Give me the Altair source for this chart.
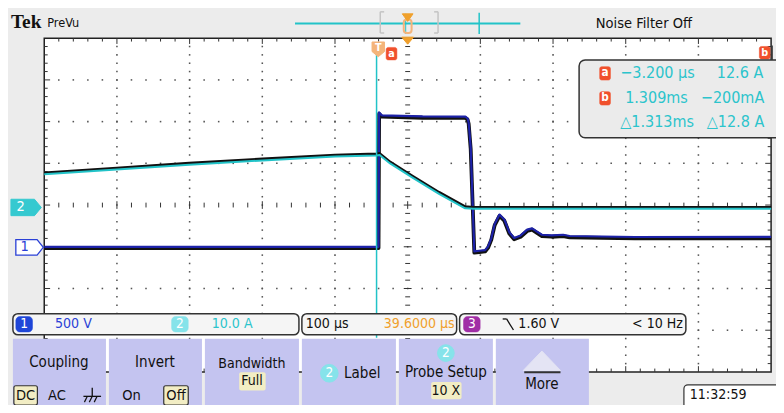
import altair as alt
import numpy as np
import pandas as pd

# ---------------- scope settings ----------------
time_per_div_us = 100.0      # "100 µs"
delay_us = 39.6              # "39.6000 µs"
ch1_volts_per_div = 500.0    # "500 V"
ch2_amps_per_div = 10.0      # "10.0 A"
ch1_offset_div = -1.0
ch2_offset_div = -0.07
cursor_a_us = -3.2

# ---------------- waveform data ----------------
ch2_time_us = [-460.4, -360.6, -260.9, -159.8, -60.1, -3.2, 1.0, 15.4, 46.8, 82.7, 118.7, 130.0, 539.6]
ch2_amps = [8.06, 9.2, 10.37, 11.4, 12.33, 12.6, 12.7, 10.67, 7.2, 3.39, -0.07, -0.2, -0.2]

ch1_time_us = [-460.4, -0.5, 0.3, 4.0, 60.0, 119.0, 122.0, 123.5, 126.3, 131.3, 138.0, 146.1, 150.1,
               154.6, 159.2, 165.9, 172.6, 179.4, 186.1, 195.0, 204.0, 210.8, 217.5, 224.3, 237.7,
               253.5, 262.4, 352.3, 539.6]
ch1_volts = [0, 0, 1610, 1575, 1562, 1560, 1540, 1490, 1190, -55, -48, -40, 2,
             98, 271, 386, 328, 175, 106, 136, 205, 221, 182, 144, 136,
             144, 129, 117, 118]

# ---------------- texts ----------------
cursor_a_label = ["−3.200 µs", "12.6 A"]
cursor_b_label = ["1.309ms", "−200mA"]
cursor_delta_label = ["△1.313ms", "△12.8 A"]
readout_labels = ["500 V", "10.0 A", "100 µs", "39.6000 µs", "1.60 V", "< 10 Hz"]
menu_titles = ["Coupling", "Invert", "Bandwidth", "Label", "Probe Setup", "More"]

# ---------------- geometry of the screen (reference pixels) ----------------
REF_W, REF_H = 784, 413
W, H = 768, 397
KX, KY = W / REF_W, H / REF_H
FS = 0.97
GX0, GX1 = 37.0, 779.0
GCY, DY = 205.0, 43.4
GY0, GY1 = GCY - 4 * DY, GCY + 4 * DY
DX = (GX1 - GX0) / 10
GCX = (GX0 + GX1) / 2

FONT = "Liberation Sans Narrow, DejaVu Sans Condensed, Arial Narrow, sans-serif"
CYAN = "#22c3c8"
CYAN_TXT = "#2cc4cc"
CYAN_BADGE = "#86e3ea"
BLUE = "#1d22a8"
BLUE_TXT = "#2a40d6"
BLUE_BADGE = "#1f46d8"
ORANGE = "#f0a02c"
ORANGE_LIGHT = "#f4b47a"
RED = "#f0502c"
PURPLE = "#a02ea6"
MENU = "#c4c4f0"
HILITE = "#f2edc4"
BG = "#ececec"
DARK = "#333333"

sx = alt.Scale(domain=[0, REF_W], range=[0, W])
sy = alt.Scale(domain=[0, REF_H], range=[0, H])


def X(f="x"):
    return alt.X(f"{f}:Q", scale=sx, axis=None)


def Y(f="y"):
    return alt.Y(f"{f}:Q", scale=sy, axis=None)


def rects(rows, radius=0):
    df = pd.DataFrame(rows, columns=["x", "x2", "y", "y2", "f", "st", "w"])
    return alt.Chart(df).mark_rect(cornerRadius=radius).encode(
        x=X(), x2=alt.X2("x2:Q"), y=Y(), y2=alt.Y2("y2:Q"),
        fill=alt.Fill("f:N", scale=None), stroke=alt.Stroke("st:N", scale=None),
        strokeWidth=alt.StrokeWidth("w:Q", scale=None))


def rules(rows):
    df = pd.DataFrame(rows, columns=["x", "x2", "y", "y2", "c", "w"])
    return alt.Chart(df).mark_rule().encode(
        x=X(), x2=alt.X2("x2:Q"), y=Y(), y2=alt.Y2("y2:Q"),
        color=alt.Color("c:N", scale=None), strokeWidth=alt.StrokeWidth("w:Q", scale=None))


def texts(rows, align="left", font=FONT, weight="normal"):
    df = pd.DataFrame(rows, columns=["x", "y", "t", "c", "s"])
    df["s"] = df["s"] * FS
    return alt.Chart(df).mark_text(align=align, baseline="middle", font=font, fontWeight=weight).encode(
        x=X(), y=Y(), text="t:N", color=alt.Color("c:N", scale=None),
        size=alt.Size("s:Q", scale=None))


def shapes(rows, path, sw=1.0):
    # custom path: one path unit = d/2 pixels
    df = pd.DataFrame(rows, columns=["x", "y", "d", "f", "st"])
    df["s"] = (df["d"] * KX) ** 2
    return alt.Chart(df).mark_point(shape=path, filled=True, opacity=1, strokeWidth=sw).encode(
        x=X(), y=Y(), size=alt.Size("s:Q", scale=None),
        fill=alt.Fill("f:N", scale=None), stroke=alt.Stroke("st:N", scale=None))


layers = []

# graticule area
layers.append(rects([(GX0, GX1, GY0, GY1, "white", "#222222", 1.5)]))

dots = []
for i in range(1, 10):
    if i == 5:
        continue
    for j in range(1, 40):
        dots.append((GX0 + i * DX, GY0 + j * DY / 5))
for k in range(1, 8):
    if k == 4:
        continue
    for m in range(1, 50):
        dots.append((GX0 + m * DX / 5, GY0 + k * DY))
dots_df = pd.DataFrame(dots, columns=["x", "y"])
layers.append(alt.Chart(dots_df).mark_square(size=2.4, color="#555555", opacity=1).encode(x=X(), y=Y()))

ticks = []
for m in range(1, 50):
    xv = GX0 + m * DX / 5
    L = 6 if m % 5 == 0 else 3.5
    Lc = 8 if m % 5 == 0 else 5
    ticks += [(xv, xv, GY0, GY0 + L, DARK, 1), (xv, xv, GY1 - L, GY1, DARK, 1),
              (xv, xv, GCY - Lc / 2, GCY + Lc / 2, DARK, 1)]
for j in range(1, 40):
    yv = GY0 + j * DY / 5
    L = 6 if j % 5 == 0 else 3.5
    Lc = 8 if j % 5 == 0 else 5
    ticks += [(GX0, GX0 + L, yv, yv, DARK, 1), (GX1 - L, GX1, yv, yv, DARK, 1),
              (GCX - Lc / 2, GCX + Lc / 2, yv, yv, DARK, 1)]
layers.append(rules(ticks))

# ---------------- traces ----------------
tscale = alt.Scale(domain=[delay_us - 5 * time_per_div_us, delay_us + 5 * time_per_div_us],
                   range=[GX0 * KX, GX1 * KX])
ch1_scale = alt.Scale(domain=[(-4 - ch1_offset_div) * ch1_volts_per_div, (4 - ch1_offset_div) * ch1_volts_per_div],
                      range=[GY1 * KY, GY0 * KY])
ch2_scale = alt.Scale(domain=[(-4 - ch2_offset_div) * ch2_amps_per_div, (4 - ch2_offset_div) * ch2_amps_per_div],
                      range=[GY1 * KY, GY0 * KY])

ch1_df = pd.DataFrame({"t": ch1_time_us, "v": ch1_volts, "i": range(len(ch1_volts))})
ch2_df = pd.DataFrame({"t": ch2_time_us, "v": ch2_amps, "i": range(len(ch2_amps))})


def trace(df, scale, color, width, yoff):
    return alt.Chart(df).mark_line(color=color, strokeWidth=width, yOffset=yoff, strokeJoin="round").encode(
        x=alt.X("t:Q", scale=tscale, axis=None), y=alt.Y("v:Q", scale=scale, axis=None), order="i:Q")


layers.append(trace(ch1_df, ch1_scale, "#111111", 3.8, 1.3))
layers.append(trace(ch1_df, ch1_scale, BLUE, 2.2, 0))
layers.append(trace(ch2_df, ch2_scale, "#111111", 2.8, -1.5))
layers.append(trace(ch2_df, ch2_scale, CYAN, 2.0, 0))

# cursor a line
layers.append(alt.Chart(pd.DataFrame({"t": [cursor_a_us], "y": [40], "y2": [343]})).mark_rule(
    color=CYAN, strokeWidth=1.5).encode(x=alt.X("t:Q", scale=tscale, axis=None), y=Y(), y2=alt.Y2("y2:Q")))

# ---------------- top bar ----------------
layers.append(texts([(3, 15, "Tek", "#111111", 20)], font="Liberation Serif, DejaVu Serif, serif", weight="bold"))
layers.append(texts([(40, 16, "PreVu", "#111111", 13), (600, 17, "Noise Filter Off", "#111111", 15)]))
layers.append(rules([
    (293, 523, 16, 16, CYAN, 2), (481, 481, 5, 27, CYAN, 1.5), (406, 406, 6, 27, CYAN, 1),
    (380, 380, 4, 26, "#c4c4c4", 1.5), (380, 384, 4, 4, "#c4c4c4", 1.5), (380, 384, 26, 26, "#c4c4c4", 1.5),
    (439, 439, 4, 26, "#c4c4c4", 1.5), (435, 439, 4, 4, "#c4c4c4", 1.5), (435, 439, 26, 26, "#c4c4c4", 1.5),
]))
layers.append(rects([(404, 412, 12, 26, "transparent", ORANGE_LIGHT, 2)], radius=3))
layers.append(shapes([(408, 10, 11, ORANGE, ORANGE)], "M-1,-0.7 L1,-0.7 L0,0.7 Z"))

# markers on graticule
layers.append(shapes([(408, 34, 12, ORANGE, ORANGE)], "M-1,-0.6 L1,-0.6 L0,0.6 Z"))
layers.append(shapes([(378, 43, 15, ORANGE_LIGHT, ORANGE_LIGHT)], "M-0.85,-1 L0.85,-1 L0.85,0.3 L0,1 L-0.85,0.3 Z"))
layers.append(rects([(386, 397, 41, 54, RED, RED, 0.5), (767, 778, 40, 53, RED, RED, 0.5)], radius=2))
layers.append(rules([(780, 780, 39, 54, DARK, 1.5)]))
layers.append(texts([(378, 41.5, "T", "white", 11), (391.5, 47.5, "a", "white", 11), (772.5, 46.5, "b", "white", 11)],
                    align="center", weight="bold"))

# channel ground markers
layers.append(shapes([(18.5, 207.5, 31, "#35c9d0", "#35c9d0")],
                     "M-1,-0.54 L0.55,-0.54 L1,0 L0.55,0.54 L-1,0.54 Z"))
layers.append(shapes([(22, 249, 28, "white", BLUE_TXT)],
                     "M-1,-0.56 L0.55,-0.56 L1,0 L0.55,0.56 L-1,0.56 Z", sw=1.3))
layers.append(texts([(13, 207.5, "2", "white", 15), (17, 249, "1", BLUE_TXT, 15)], align="center"))

# ---------------- cursor readout box ----------------
layers.append(rects([(583, 800, 54, 135, "#ebebeb", DARK, 1.5)], radius=6))
layers.append(rects([(604, 615, 61, 75, RED, RED, 0.5), (604, 615, 87, 101, RED, RED, 0.5)], radius=2))
layers.append(texts([(609.5, 68, "a", "white", 12), (609.5, 94, "b", "white", 12)], align="center", weight="bold"))
layers.append(texts([(625, 68, cursor_a_label[0], CYAN_TXT, 16.5), (630, 94, cursor_b_label[0], CYAN_TXT, 16.5),
                     (625, 119, cursor_delta_label[0], CYAN_TXT, 16.5)]))
layers.append(texts([(771, 68, cursor_a_label[1], CYAN_TXT, 16.5), (772, 94, cursor_b_label[1], CYAN_TXT, 16.5),
                     (772, 119, cursor_delta_label[1], CYAN_TXT, 16.5)], align="right"))

# ---------------- readout bar ----------------
layers.append(rects([(5, 297, 318, 340, "#f5f5f5", DARK, 1.5), (300, 458, 318, 340, "#f5f5f5", DARK, 1.5),
                     (461, 692, 318, 340, "#f5f5f5", DARK, 1.5)], radius=5))
layers.append(rects([(8, 25, 321, 337, BLUE_BADGE, BLUE_BADGE, 0.5), (167, 184, 321, 337, CYAN_BADGE, CYAN_BADGE, 0.5),
                     (465, 482, 321, 337, PURPLE, PURPLE, 0.5)], radius=4))
layers.append(texts([(16.5, 329, "1", "white", 14), (175.5, 329, "2", "white", 14), (473.5, 329, "3", "white", 14)],
                    align="center"))
layers.append(texts([(48, 329, readout_labels[0], BLUE_TXT, 14.5), (208, 329, readout_labels[1], CYAN_TXT, 14.5),
                     (304, 329, readout_labels[2], "#111111", 14.5), (521, 329, readout_labels[4], "#111111", 14.5)]))
layers.append(texts([(456, 329, readout_labels[3], ORANGE, 14.5), (689, 329, readout_labels[5], "#111111", 14.5)],
                    align="right"))
layers.append(rules([(505, 509, 323.5, 323.5, "#111111", 1.3), (509, 516, 323.5, 335, "#111111", 1.3)]))

# ---------------- menu buttons ----------------
btn = [(5, 100), (103, 198), (201, 297), (300, 396), (399, 495), (498, 593)]
layers.append(rects([(a, b, 344, 420, MENU, MENU, 0) for a, b in btn]))
layers.append(rects([(6, 30, 393, 413, HILITE, DARK, 1.2), (159, 184, 393, 413, HILITE, DARK, 1.2),
                     (432, 463, 389, 407, HILITE, HILITE, 0), (236, 263, 379, 398, HILITE, HILITE, 0)], radius=2))
layers.append(shapes([(328, 380, 18, CYAN_BADGE, CYAN_BADGE), (447, 359, 17, CYAN_BADGE, CYAN_BADGE)], "circle"))
layers.append(shapes([(545, 367, 38, "#e4e4f4", "#e4e4f4")], "M-1,0.52 L1,0.52 L0,-0.52 Z"))
layers.append(rules([(527, 564, 379, 379, DARK, 2),
                     (86, 86, 395, 404, "#111111", 1.3), (77, 95, 404, 404, "#111111", 1.3),
                     (81, 78, 404, 410, "#111111", 1.2), (86, 83, 404, 410, "#111111", 1.2),
                     (91, 88, 404, 410, "#111111", 1.2)]))
layers.append(texts([(328, 380, "2", "white", 14), (447, 359, "2", "white", 14)], align="center"))
layers.append(texts([
    (52, 368, menu_titles[0], "#111111", 15.5), (150, 368, menu_titles[1], "#111111", 15.5),
    (249, 370, menu_titles[2], "#111111", 14.5), (447, 379, menu_titles[4], "#111111", 15.5),
    (545, 391, menu_titles[5], "#111111", 15.5),
    (18, 403.5, "DC", "#111111", 15), (50, 403.5, "AC", "#111111", 15),
    (126, 404, "On", "#111111", 15), (171.5, 403.5, "Off", "#111111", 15),
    (249, 388.5, "Full", "#111111", 14.5), (447, 398, "10 X", "#111111", 14.5),
], align="center"))
layers.append(texts([(343, 380, menu_titles[3], "#111111", 15.5)]))

# timestamp
layers.append(rects([(690, 800, 392, 420, "white", DARK, 1.2)], radius=4))
layers.append(texts([(696, 403, "11:32:59", "#111111", 14.5)]))

chart = alt.layer(*layers).resolve_scale(x="independent", y="independent").properties(
    width=W, height=H, padding=0, autosize="none", background=BG
).configure_view(stroke=None)

chart.save("out.html", embed_options={"renderer": "svg", "actions": False})
